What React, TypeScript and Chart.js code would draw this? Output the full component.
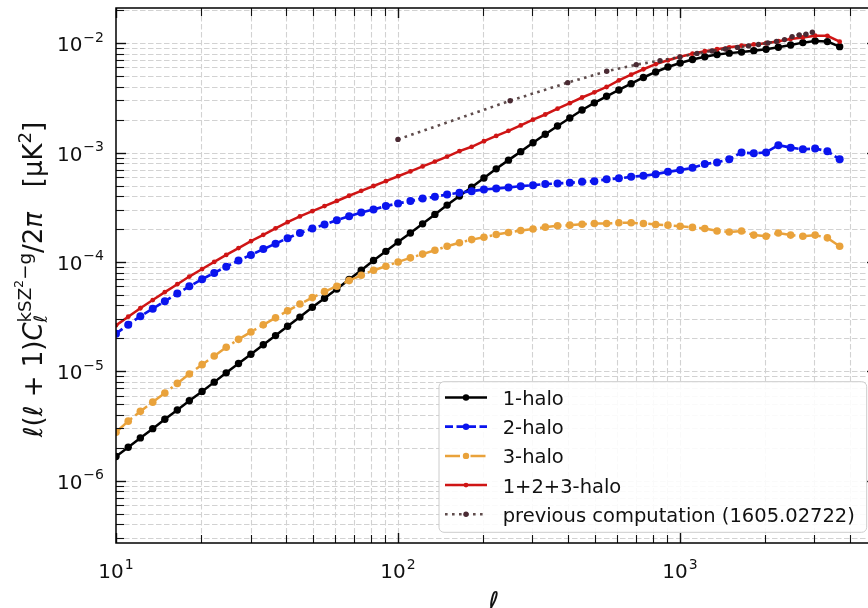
import React, { useEffect, useRef } from "react";
import { Chart, registerables } from "chart.js";

Chart.register(...registerables);

// multipole grid of the halo-model curves
const ELL = [
  10, 11.05, 12.2, 13.5, 14.9, 16.5, 18.2, 20.2, 22.3, 24.6, 27.2, 30.1, 33.3, 36.8, 40.6,
  44.9, 49.7, 54.9, 60.7, 67.1, 74.1, 81.9, 90.6, 100.1, 110.7, 122.3, 135.2, 149.4, 165.2,
  182.6, 201.8, 223.1, 246.6, 272.5, 301.3, 333.0, 368.1, 406.9, 449.8, 497.2, 549.5, 607.4,
  671.4, 742.2, 820.4, 906.8, 1002, 1108, 1225, 1354, 1496, 1654, 1828, 2021, 2234, 2470,
  2729, 3017, 3334, 3686,
];

const ONE_HALO = [
  1.66e-6, 2.02e-6, 2.46e-6, 2.99e-6, 3.64e-6, 4.43e-6, 5.38e-6, 6.55e-6, 7.96e-6, 9.68e-6,
  1.18e-5, 1.43e-5, 1.75e-5, 2.12e-5, 2.58e-5, 3.13e-5, 3.85e-5, 4.66e-5, 5.66e-5, 6.9e-5,
  8.39e-5, 1.03e-4, 1.25e-4, 1.52e-4, 1.84e-4, 2.23e-4, 2.72e-4, 3.31e-4, 4.0e-4, 4.82e-4,
  5.86e-4, 7.1e-4, 8.53e-4, 1.02e-3, 1.23e-3, 1.47e-3, 1.75e-3, 2.07e-3, 2.45e-3, 2.85e-3,
  3.27e-3, 3.74e-3, 4.27e-3, 4.86e-3, 5.46e-3, 6.06e-3, 6.6e-3, 7.1e-3, 7.52e-3, 7.9e-3,
  8.12e-3, 8.3e-3, 8.55e-3, 8.81e-3, 9.19e-3, 9.65e-3, 1.013e-2, 1.05e-2, 1.035e-2, 9.31e-3,
];

const TWO_HALO = [
  2.21e-5, 2.67e-5, 3.18e-5, 3.74e-5, 4.37e-5, 5.14e-5, 5.98e-5, 6.95e-5, 7.94e-5, 9.06e-5,
  1.03e-4, 1.16e-4, 1.31e-4, 1.47e-4, 1.65e-4, 1.84e-4, 2.02e-4, 2.2e-4, 2.41e-4, 2.62e-4,
  2.83e-4, 3.02e-4, 3.24e-4, 3.43e-4, 3.6e-4, 3.81e-4, 3.94e-4, 4.14e-4, 4.29e-4, 4.44e-4,
  4.6e-4, 4.7e-4, 4.8e-4, 4.93e-4, 5.04e-4, 5.15e-4, 5.22e-4, 5.29e-4, 5.41e-4, 5.48e-4,
  5.69e-4, 5.81e-4, 6.0e-4, 6.14e-4, 6.35e-4, 6.67e-4, 6.92e-4, 7.26e-4, 7.85e-4, 8.13e-4,
  8.67e-4, 1.004e-3, 9.84e-4, 1.004e-3, 1.17e-3, 1.11e-3, 1.07e-3, 1.09e-3, 1.03e-3, 8.67e-4,
];

const THREE_HALO = [
  2.77e-6, 3.5e-6, 4.3e-6, 5.22e-6, 6.34e-6, 7.75e-6, 9.46e-6, 1.15e-5, 1.38e-5, 1.66e-5,
  1.96e-5, 2.29e-5, 2.66e-5, 3.08e-5, 3.57e-5, 4.12e-5, 4.72e-5, 5.35e-5, 6.0e-5, 6.75e-5,
  7.55e-5, 8.39e-5, 9.14e-5, 1.0e-4, 1.09e-4, 1.18e-4, 1.28e-4, 1.39e-4, 1.5e-4, 1.6e-4,
  1.68e-4, 1.78e-4, 1.86e-4, 1.94e-4, 2.0e-4, 2.08e-4, 2.14e-4, 2.17e-4, 2.21e-4, 2.25e-4,
  2.25e-4, 2.28e-4, 2.28e-4, 2.25e-4, 2.2e-4, 2.17e-4, 2.12e-4, 2.07e-4, 2.02e-4, 1.92e-4,
  1.88e-4, 1.92e-4, 1.76e-4, 1.72e-4, 1.84e-4, 1.76e-4, 1.72e-4, 1.76e-4, 1.66e-4, 1.39e-4,
];

const TOTAL = [
  2.63e-5, 3.16e-5, 3.77e-5, 4.48e-5, 5.3e-5, 6.26e-5, 7.35e-5, 8.61e-5, 1.0e-4, 1.16e-4,
  1.34e-4, 1.55e-4, 1.77e-4, 2.03e-4, 2.31e-4, 2.61e-4, 2.91e-4, 3.24e-4, 3.61e-4, 4.03e-4,
  4.47e-4, 4.95e-4, 5.48e-4, 6.08e-4, 6.72e-4, 7.48e-4, 8.27e-4, 9.19e-4, 1.03e-3, 1.13e-3,
  1.27e-3, 1.42e-3, 1.58e-3, 1.77e-3, 2.0e-3, 2.23e-3, 2.52e-3, 2.83e-3, 3.19e-3, 3.56e-3,
  3.98e-3, 4.58e-3, 5.16e-3, 5.78e-3, 6.44e-3, 6.98e-3, 7.52e-3, 8.02e-3, 8.45e-3, 8.81e-3,
  9.18e-3, 9.49e-3, 9.75e-3, 1.0e-2, 1.045e-2, 1.092e-2, 1.13e-2, 1.173e-2, 1.17e-2, 1.033e-2,
];

// previous computation (1605.02722)
const PREV_ELL = [
  100, 250, 400, 550, 700, 850, 1000, 1150, 1300, 1450, 1600, 1750, 1900, 2050, 2200, 2350,
  2500, 2650, 2800, 2950,
];
const PREV = [
  1.32e-3, 2.98e-3, 4.36e-3, 5.54e-3, 6.37e-3, 6.93e-3, 7.49e-3, 8.07e-3, 8.5e-3, 8.87e-3,
  9.16e-3, 9.45e-3, 9.75e-3, 1.006e-2, 1.039e-2, 1.08e-2, 1.15e-2, 1.19e-2, 1.21e-2, 1.26e-2,
];

const X_RANGE = [10, 5000];
const Y_RANGE = [2.69e-7, 2.1e-2];
const X_TICK_VALUES = [10, 100, 1000];
const X_TICK_EXPONENTS = ["1", "2", "3"];
const Y_TICK_VALUES = [1e-6, 1e-5, 1e-4, 1e-3, 1e-2];
const Y_TICK_EXPONENTS = ["\u22126", "\u22125", "\u22124", "\u22123", "\u22122"];
const SERIES_LABELS = ["1-halo", "2-halo", "3-halo", "1+2+3-halo", "previous computation (1605.02722)"];

const FONT = '"DejaVu Sans", sans-serif';
const CANVAS_W = 880;
const CANVAS_H = 608;

function logTicks(min: number, max: number) {
  const out: { v: number; major: boolean }[] = [];
  const e0 = Math.floor(Math.log10(min));
  const e1 = Math.ceil(Math.log10(max));
  for (let e = e0; e <= e1; e++) {
    for (let m = 1; m <= 9; m++) {
      const v = m * Math.pow(10, e);
      if (v >= min * 0.9999 && v <= max * 1.0001) out.push({ v, major: m === 1 });
    }
  }
  return out;
}

function seg(ctx: CanvasRenderingContext2D, x1: number, y1: number, x2: number, y2: number) {
  ctx.beginPath();
  ctx.moveTo(x1, y1);
  ctx.lineTo(x2, y2);
  ctx.stroke();
}

function drawPower(ctx: CanvasRenderingContext2D, exp: string, x: number, baseline: number, align: "center" | "right") {
  const big = `20px ${FONT}`;
  const small = `14px ${FONT}`;
  ctx.font = big;
  const w1 = ctx.measureText("10").width;
  ctx.font = small;
  const w2 = ctx.measureText(exp).width;
  const total = w1 + w2 + 1;
  const x0 = align === "center" ? x - total / 2 : x - total;
  ctx.textAlign = "left";
  ctx.textBaseline = "alphabetic";
  ctx.font = big;
  ctx.fillText("10", x0, baseline);
  ctx.font = small;
  ctx.fillText(exp, x0 + w1 + 1, baseline - 9.5);
}

function yLabelRun(ctx: CanvasRenderingContext2D, draw: boolean) {
  const F = 26;
  const S = F * 0.7;
  let x = 0;
  const put = (t: string, size: number, italic: boolean, dy: number) => {
    ctx.font = `${italic ? "italic " : ""}${size}px ${FONT}`;
    if (draw) ctx.fillText(t, x, dy);
    x += ctx.measureText(t).width;
  };
  put("\u2113", F, true, 0);
  put("(", F, false, 0);
  put("\u2113", F, true, 0);
  put(" + ", F, false, 0);
  put("1)", F, false, 0);
  put("C", F, true, 0);
  const xs = x;
  put("kSZ", S, false, -0.42 * F);
  put("2", S * 0.7, false, -0.42 * F - 0.28 * F);
  put("\u2212g", S, false, -0.42 * F);
  const xe = x;
  x = xs;
  put("\u2113", S, true, 0.22 * F);
  x = Math.max(x, xe);
  put("/2", F, false, 0);
  put("\u03c0", F, true, 0);
  put("   ", F, false, 0);
  put("[\u03bcK", F, false, 0);
  put("2", S, false, -0.42 * F);
  put("]", F, false, 0);
  return x;
}

const xTicks = logTicks(X_RANGE[0], X_RANGE[1]);
const yTicks = logTicks(Y_RANGE[0], Y_RANGE[1]);

const axesPlugin = {
  id: "mplAxes",
  beforeDatasetsDraw(chart: any) {
    const { ctx, chartArea: a, scales } = chart;
    const xs = scales.x;
    const ys = scales.y;
    ctx.save();
    ctx.strokeStyle = "#d2d2d2";
    ctx.lineWidth = 1.1;
    ctx.setLineDash([5.5, 2.5]);
    for (const t of xTicks) {
      const px = Math.round(xs.getPixelForValue(t.v)) + 0.5;
      if (px < a.left + 2 || px > a.right - 2) continue;
      seg(ctx, px, a.top, px, a.bottom);
    }
    for (const t of yTicks) {
      const py = Math.round(ys.getPixelForValue(t.v)) + 0.5;
      if (py < a.top + 2 || py > a.bottom - 2) continue;
      seg(ctx, a.left, py, a.right, py);
    }
    ctx.restore();
  },
  afterDatasetsDraw(chart: any) {
    const { ctx, chartArea: a, scales } = chart;
    const xs = scales.x;
    const ys = scales.y;
    ctx.save();
    ctx.setLineDash([]);
    ctx.strokeStyle = "#111";
    for (const t of xTicks) {
      const px = Math.round(xs.getPixelForValue(t.v)) + 0.5;
      const L = t.major ? 10 : 8;
      ctx.lineWidth = t.major ? 1.4 : 1.1;
      seg(ctx, px, a.bottom, px, a.bottom - L);
      seg(ctx, px, a.top, px, a.top + L);
    }
    for (const t of yTicks) {
      const py = Math.round(ys.getPixelForValue(t.v)) + 0.5;
      const L = t.major ? 10 : 8;
      ctx.lineWidth = t.major ? 1.4 : 1.1;
      seg(ctx, a.left, py, a.left + L, py);
      seg(ctx, a.right, py, a.right - L, py);
    }
    ctx.strokeStyle = "#000";
    ctx.lineWidth = 1.5;
    ctx.strokeRect(a.left, a.top, a.right - a.left, a.bottom - a.top);

    ctx.fillStyle = "#111";
    X_TICK_VALUES.forEach((v, i) => {
      drawPower(ctx, X_TICK_EXPONENTS[i], xs.getPixelForValue(v), a.bottom + 35, "center");
    });
    Y_TICK_VALUES.forEach((v, i) => {
      drawPower(ctx, Y_TICK_EXPONENTS[i], a.left - 12, ys.getPixelForValue(v) + 8, "right");
    });

    ctx.font = `italic 27px ${FONT}`;
    ctx.textAlign = "center";
    ctx.textBaseline = "alphabetic";
    ctx.fillText("\u2113", (a.left + a.right) / 2 - 3, a.bottom + 68);

    ctx.textAlign = "left";
    const w = yLabelRun(ctx, false);
    ctx.save();
    ctx.translate(41.5, (a.top + a.bottom) / 2 + w / 2 + 4);
    ctx.rotate(-Math.PI / 2);
    yLabelRun(ctx, true);
    ctx.restore();

    ctx.restore();
  },
  afterDraw(chart: any) {
    const { ctx } = chart;
    const ds = chart.data.datasets;
    const bx = 439;
    const by = 381.7;
    const bw = 427.7;
    const bh = 150.6;
    const r = 5;
    ctx.save();
    ctx.beginPath();
    ctx.moveTo(bx + r, by);
    ctx.arcTo(bx + bw, by, bx + bw, by + bh, r);
    ctx.arcTo(bx + bw, by + bh, bx, by + bh, r);
    ctx.arcTo(bx, by + bh, bx, by, r);
    ctx.arcTo(bx, by, bx + bw, by, r);
    ctx.closePath();
    ctx.fillStyle = "rgba(255,255,255,0.88)";
    ctx.fill();
    ctx.strokeStyle = "#cccccc";
    ctx.lineWidth = 1;
    ctx.stroke();

    ds.forEach((d: any, i: number) => {
      const base = by + 23.3 + i * 29.2;
      const yc = base - 7.5;
      ctx.setLineDash(d.borderDash || []);
      ctx.strokeStyle = d.borderColor;
      ctx.lineWidth = d.borderWidth;
      seg(ctx, 445, yc, 487, yc);
      ctx.setLineDash([]);
      ctx.fillStyle = d.pointBackgroundColor;
      ctx.beginPath();
      ctx.arc(466, yc, Math.min(d.pointRadius, 3.2), 0, Math.PI * 2);
      ctx.fill();
      ctx.fillStyle = "#111";
      ctx.font = `19.5px ${FONT}`;
      ctx.textAlign = "left";
      ctx.textBaseline = "alphabetic";
      ctx.fillText(d.label, 502.7, base);
    });
    ctx.restore();
  },
};

function pts(xs: number[], ys: number[]) {
  return xs.map((x, i) => ({ x, y: ys[i] }));
}

export default function App() {
  const ref = useRef<HTMLCanvasElement>(null);
  useEffect(() => {
    if (!ref.current) return;
    const common = { tension: 0, fill: false, pointBorderWidth: 0, pointHoverRadius: 0 };
    const chart = new Chart(ref.current, {
      type: "line",
      data: {
        datasets: [
          {
            ...common,
            label: SERIES_LABELS[0],
            data: pts(ELL, ONE_HALO),
            borderColor: "#000000",
            pointBackgroundColor: "#000000",
            pointBorderColor: "#000000",
            borderWidth: 2.5,
            pointRadius: 3.7,
            borderDash: [],
            order: 5,
          },
          {
            ...common,
            label: SERIES_LABELS[1],
            data: pts(ELL, TWO_HALO),
            borderColor: "#0a14ee",
            pointBackgroundColor: "#0a14ee",
            pointBorderColor: "#0a14ee",
            borderWidth: 2.7,
            pointRadius: 4.0,
            borderDash: [8, 3.5],
            order: 4,
          },
          {
            ...common,
            label: SERIES_LABELS[2],
            data: pts(ELL, THREE_HALO),
            borderColor: "#e9a23b",
            pointBackgroundColor: "#e9a23b",
            pointBorderColor: "#e9a23b",
            borderWidth: 2.5,
            pointRadius: 3.8,
            borderDash: [15, 4, 2.5, 4],
            order: 3,
          },
          {
            ...common,
            label: SERIES_LABELS[3],
            data: pts(ELL, TOTAL),
            borderColor: "#cf1515",
            pointBackgroundColor: "#cf1515",
            pointBorderColor: "#cf1515",
            borderWidth: 2.5,
            pointRadius: 2.4,
            borderDash: [],
            order: 2,
          },
          {
            ...common,
            label: SERIES_LABELS[4],
            data: pts(PREV_ELL, PREV),
            borderColor: "rgba(78,56,56,0.9)",
            pointBackgroundColor: "#4a2a33",
            pointBorderColor: "#4a2a33",
            borderWidth: 2.6,
            pointRadius: 2.7,
            borderDash: [2.6, 4.4],
            order: 1,
          },
        ] as any,
      },
      options: {
        responsive: false,
        animation: false,
        devicePixelRatio: 1,
        events: [],
        layout: {
          autoPadding: false,
          padding: { left: 116, top: 8, right: CANVAS_W - 877, bottom: CANVAS_H - 543 },
        },
        plugins: { legend: { display: false }, tooltip: { enabled: false } },
        scales: {
          x: { type: "logarithmic", display: false, min: X_RANGE[0], max: X_RANGE[1], bounds: "data" },
          y: { type: "logarithmic", display: false, min: Y_RANGE[0], max: Y_RANGE[1], bounds: "data" },
        },
      } as any,
      plugins: [axesPlugin],
    });
    return () => chart.destroy();
  }, []);

  return (
    <div
      style={{
        position: "fixed",
        left: 0,
        top: 0,
        width: 868,
        height: 608,
        overflow: "hidden",
        background: "#ffffff",
      }}
    >
      <canvas ref={ref} width={CANVAS_W} height={CANVAS_H} style={{ display: "block", width: CANVAS_W, height: CANVAS_H }} />
    </div>
  );
}
